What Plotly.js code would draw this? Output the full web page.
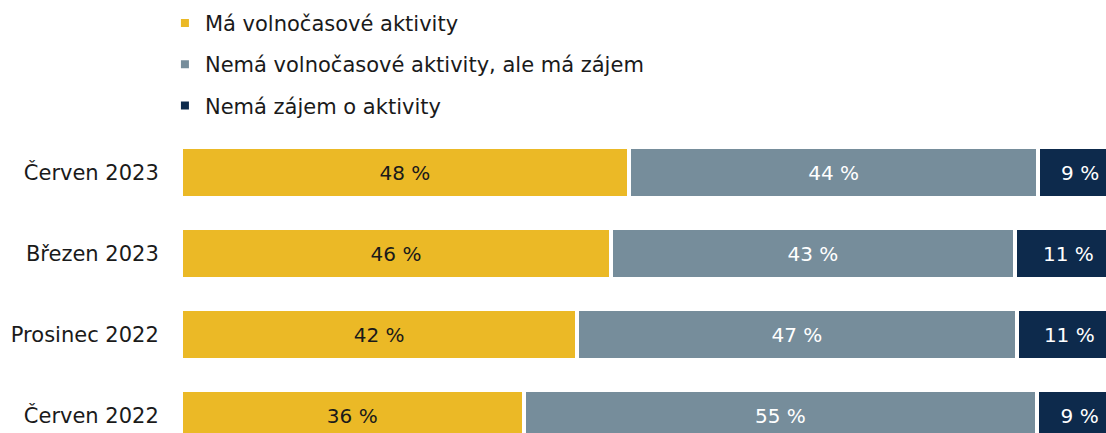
<!DOCTYPE html>
<html>
<head>
<meta charset="utf-8">
<script src="https://cdn.plot.ly/plotly-3.0.1.min.js"></script>
<style>
html, body { margin: 0; padding: 0; overflow: hidden; background: #fff; }
#chart { width: 1122px; height: 460px; }
</style>
</head>
<body>
<div id="chart"></div>
<script>
const categories = ["Červen 2023", "Březen 2023", "Prosinec 2022", "Červen 2022"];
const seriesNames = ["Má volnočasové aktivity", "Nemá volnočasové aktivity, ale má zájem", "Nemá zájem o aktivity"];
const maAktivity = [47.6, 45.7, 42.1, 36.4];
const nemaAleZajem = [43.5, 42.9, 46.7, 54.6];
const nemaZajem = [8.9, 11.4, 11.2, 9.0];

const colors = ["#EBB926", "#768D9B", "#0D2A4C"];
const textColors = ["#1a1a1a", "#ffffff", "#ffffff"];
const seriesValues = [maAktivity, nemaAleZajem, nemaZajem];
const FONT = "'DejaVu Sans', 'Noto Sans', sans-serif";

const traces = seriesValues.map((vals, i) => ({
  type: "bar",
  orientation: "h",
  name: seriesNames[i],
  legendgroup: "g" + i,
  y: categories,
  x: vals,
  marker: { color: colors[i], line: { color: "#ffffff", width: 4 } },
  texttemplate: "%{x:.0f} %",
  textposition: "inside",
  insidetextanchor: "middle",
  textfont: { family: FONT, size: 20, color: textColors[i] },
  hoverinfo: "skip"
}));

const layout = {
  width: 1122,
  height: 460,
  margin: { l: 181, r: 0, t: 132, b: 4, autoexpand: false },
  barmode: "stack",
  bargap: 0.38,
  paper_bgcolor: "#ffffff",
  plot_bgcolor: "#ffffff",
  font: { family: FONT, size: 21, color: "#1a1a1a" },
  showlegend: true,
  legend: {
    xref: "container", yref: "container",
    x: 0.147, y: 0.994, xanchor: "left", yanchor: "top",
    orientation: "v",
    traceorder: "grouped",
    tracegroupgap: 11,
    font: { family: FONT, size: 21, color: "#1a1a1a" },
    bgcolor: "rgba(0,0,0,0)"
  },
  xaxis: {
    range: [0, 100],
    visible: false,
    fixedrange: true
  },
  yaxis: {
    type: "category",
    categoryorder: "array",
    categoryarray: categories,
    autorange: "reversed",
    showgrid: false,
    zeroline: false,
    showline: false,
    ticks: "outside",
    ticklen: 17,
    tickcolor: "rgba(0,0,0,0)",
    tickfont: { family: FONT, size: 21, color: "#1a1a1a" },
    fixedrange: true
  }
};

Plotly.newPlot("chart", traces, layout, { displayModeBar: false, staticPlot: true });
</script>
</body>
</html>
